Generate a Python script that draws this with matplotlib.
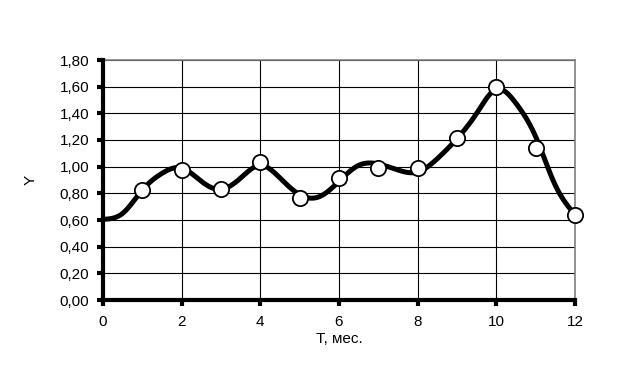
import matplotlib
matplotlib.use("Agg")
import matplotlib.pyplot as plt
import numpy as np
from matplotlib.ticker import FuncFormatter, MultipleLocator

plt.rcParams['font.family'] = ['Liberation Sans', 'DejaVu Sans']

# observed points (markers)
t_obs = [1, 2, 3, 4, 5, 6, 7, 8, 9, 10, 11, 12]
y_obs = [0.825, 0.975, 0.83, 1.035, 0.765, 0.915, 0.99, 0.99, 1.215, 1.60, 1.14, 0.64]

# model curve (read at half-month steps)
t_fit = [0, 0.5, 1, 1.5, 2, 2.5, 3, 3.5, 4, 4.5, 5, 5.5, 6,
         6.5, 7, 7.5, 8, 8.5, 9, 9.5, 10, 10.5, 11, 11.5, 12]
y_fit = [0.605, 0.65, 0.825, 0.95, 0.99, 0.89, 0.83, 0.915, 1.01, 0.915, 0.79, 0.775, 0.89,
         1.01, 1.02, 0.975, 0.96, 1.06, 1.21, 1.40, 1.58, 1.475, 1.225, 0.86, 0.64]


def natural_spline(xs, ys, n=600):
    x = np.asarray(xs, float); y = np.asarray(ys, float)
    m = len(x); h = np.diff(x)
    A = np.zeros((m, m)); b = np.zeros(m)
    A[0, 0] = 1; A[-1, -1] = 1
    for i in range(1, m - 1):
        A[i, i - 1] = h[i - 1]
        A[i, i] = 2 * (h[i - 1] + h[i])
        A[i, i + 1] = h[i]
        b[i] = 6 * ((y[i + 1] - y[i]) / h[i] - (y[i] - y[i - 1]) / h[i - 1])
    M = np.linalg.solve(A, b)
    xx = np.linspace(x[0], x[-1], n)
    idx = np.clip(np.searchsorted(x, xx) - 1, 0, m - 2)
    x0 = x[idx]; x1 = x[idx + 1]; hh = x1 - x0
    a = (x1 - xx) / hh; bb = (xx - x0) / hh
    yy = a * y[idx] + bb * y[idx + 1] + ((a ** 3 - a) * M[idx] + (bb ** 3 - bb) * M[idx + 1]) * hh ** 2 / 6
    return xx, yy


fig = plt.figure(figsize=(6.21, 3.69), dpi=100)
ax = fig.add_axes([103/621, 1 - 300/369, 472/621, 240/369])

sx, sy = natural_spline(t_fit, y_fit)
ax.plot(sx, sy, color='black', lw=3.6, solid_capstyle='butt', zorder=3, clip_on=False)
ax.plot(t_obs, y_obs, 'o', ms=11, mfc='white', mec='black', mew=1.3, zorder=4, clip_on=False)

ax.set_xlim(0, 12)
ax.set_ylim(0, 1.8)
ax.xaxis.set_major_locator(MultipleLocator(2))
ax.yaxis.set_major_locator(MultipleLocator(0.2))
ax.yaxis.set_major_formatter(FuncFormatter(lambda v, p: f"{v:.2f}".replace('.', ',')))
ax.xaxis.set_major_formatter(FuncFormatter(lambda v, p: f"{int(round(v))}"))
ax.grid(True, color='black', lw=0.8)
ax.set_axisbelow(True)

for s in ['left', 'bottom']:
    ax.spines[s].set_linewidth(3)
    ax.spines[s].set_color('black')
for s in ['top', 'right']:
    ax.spines[s].set_linewidth(1.2)
    ax.spines[s].set_color('#808080')
ax.spines['left'].set_zorder(5)
ax.spines['bottom'].set_zorder(5)

ax.tick_params(axis='both', direction='out', length=4, width=3, labelsize=11, color='black')
ax.tick_params(axis='y', pad=6)
ax.tick_params(axis='x', pad=7)

ax.set_xlabel('Т, мес.', fontsize=11, labelpad=2)
ax.set_ylabel('Y', fontsize=11, labelpad=16)

fig.savefig('out.png', dpi=100)
